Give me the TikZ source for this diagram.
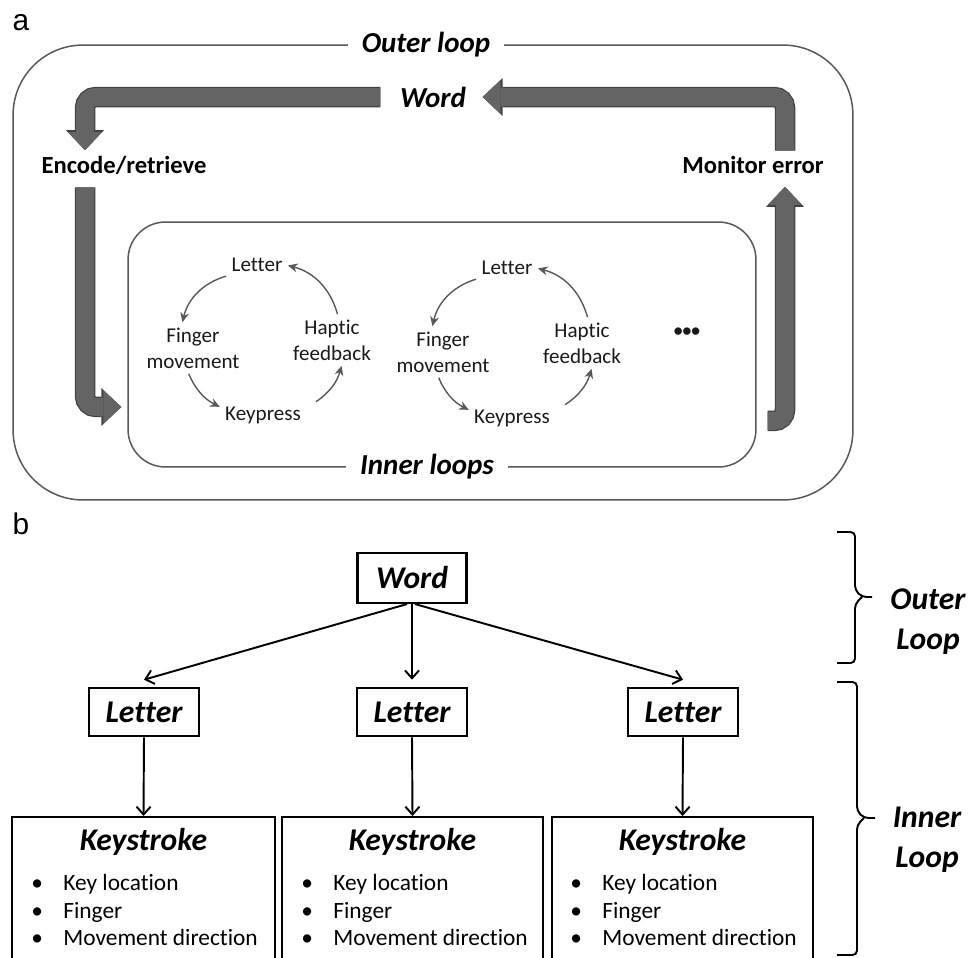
\documentclass[tikz,border=0pt]{standalone}
\usepackage{fontspec}
\setmainfont{Carlito}[Ligatures=NoCommon]
\newfontfamily\panelfont{Liberation Sans}
\definecolor{loopgray}{RGB}{88,88,88}
\definecolor{arrowgray}{RGB}{100,100,100}
\definecolor{arrowedge}{RGB}{66,66,66}
\usetikzlibrary{arrows.meta,positioning}

\begin{document}
\begin{tikzpicture}[x=0.02cm, y=-0.02cm,
    panellbl/.style={font=\panelfont\fontsize{17}{20}\selectfont},
    looplbl/.style={inner sep=3pt, font=\fontsize{16.5}{19}\selectfont\bfseries\itshape},
    gaplbl/.style={looplbl, fill=white, inner xsep=8pt},
    stagelbl/.style={inner sep=3pt, font=\fontsize{14}{17}\selectfont\bfseries},
    looptxt/.style={align=center, inner sep=2pt, text=black!90, font=\fontsize{12}{14.7}\selectfont},
    loopbox/.style={rectangle, draw=loopgray, line width=0.85pt},
    bigarrow/.style={draw=arrowgray, line width=0.36cm, rounded corners=0.22cm,
      -{Triangle[width=0.68cm,length=0.36cm,line width=0pt]},
      preaction={draw=arrowedge, line width=0.41cm, -{Triangle[width=0.76cm,length=0.40cm,line width=0pt]}}},
    smallarrow/.style={draw=loopgray, line width=0.8pt, shorten <=1pt, shorten >=1pt,
      -{Stealth[length=5.5pt,width=5pt]}},
    treebox/.style={rectangle, draw, line width=1.2pt, inner sep=0pt, minimum height=0.97cm,
      font=\fontsize{18}{22}\selectfont\bfseries\itshape},
    keybox/.style={rectangle, draw, line width=1.2pt, anchor=north, minimum height=3.2cm},
    keytitle/.style={inner sep=0pt, font=\fontsize{18}{22}\selectfont\bfseries\itshape},
    keylist/.style={anchor=north west, align=left, inner sep=0pt, font=\fontsize{13.3}{15.6}\selectfont},
    treearrow/.style={draw, line width=1.1pt, -{Straight Barb[length=4.5pt,width=8pt]}},
    sidelbl/.style={align=center, font=\fontsize{18}{22.7}\selectfont\bfseries\itshape},
    sidebrace/.style={draw, line width=1.1pt, rounded corners=2.5pt}
  ]
    \useasboundingbox (0,0) rectangle (969,957);
    \clip (0,0) rectangle (969,957);

    \node[panellbl] (pa) at (21,23) {a};
    \node[loopbox, rounded corners=1.4cm, minimum width=16.8cm, minimum height=9.1cm] (outer) at (433,272.5) {};
    \node[loopbox, rounded corners=0.75cm, minimum width=12.56cm, minimum height=4.9cm] (inner) at (442,344.5) {};
    \node[gaplbl] (outerlbl) at (426,45) {Outer loop};
    \node[gaplbl] (innerlbl) at (427,467) {Inner loops};
    \node[looplbl] (worda) at (433,97) {Word};
    \node[stagelbl] (encode) at (124,165) {Encode/retrieve};
    \node[stagelbl] (monitor) at (753,165) {Monitor error};

    \draw[bigarrow] ([xshift=0.64cm]monitor.north) |- ([xshift=0.22cm]worda.east);
    \draw[bigarrow] ([xshift=-0.28cm]worda.west) -| ([xshift=-0.78cm]encode.north);
    \draw[bigarrow, shorten <=0.15cm] ([xshift=-0.78cm]encode.south) |- ([xshift=-0.12cm,yshift=-1.25cm]inner.west);
    \draw[bigarrow, shorten >=0.15cm] ([xshift=0.22cm,yshift=-1.53cm]inner.east) -| ([xshift=0.64cm]monitor.south);

    \node[looptxt] (let1) at (257,265) {Letter};
    \node[looptxt] (fin1) at (193,348) {Finger\\movement};
    \node[looptxt] (hap1) at (332,340) {Haptic\\feedback};
    \node[looptxt] (key1) at (263,415) {Keypress};
    \node[looptxt] (let2) at (507,268) {Letter};
    \node[looptxt] (fin2) at (443,352) {Finger\\movement};
    \node[looptxt] (hap2) at (582,343) {Haptic\\feedback};
    \node[looptxt] (key2) at (512,418) {Keypress};
    \node[looptxt, font=\fontsize{10}{12}\selectfont\bfseries] (dots) at (687,332) {\textbullet\textbullet\textbullet};

    \draw[smallarrow] (let1.200) to[bend right=30] ([xshift=-0.22cm]fin1.north);
    \draw[smallarrow] ([xshift=-0.1cm]fin1.south) to[bend right=20] (key1.170);
    \draw[smallarrow] ([xshift=0.2cm]key1.north east) to[bend right=20] ([xshift=0.2cm]hap1.south);
    \draw[smallarrow] ([xshift=0.12cm]hap1.north) to[bend right=30] (let1.east);
    \draw[smallarrow] (let2.200) to[bend right=30] ([xshift=-0.22cm]fin2.north);
    \draw[smallarrow] ([xshift=-0.1cm]fin2.south) to[bend right=20] (key2.170);
    \draw[smallarrow] ([xshift=0.2cm]key2.north east) to[bend right=20] ([xshift=0.2cm]hap2.south);
    \draw[smallarrow] ([xshift=0.12cm]hap2.north) to[bend right=30] (let2.east);

    \node[panellbl] (pb) at (21,524) {b};
    \node[treebox, minimum width=2.18cm, minimum height=1.0cm] (wordb) at (412,578) {Word};
    \node[treebox, minimum width=2.2cm] (ltr1) at (144,712) {Letter};
    \node[treebox, minimum width=2.2cm] (ltr2) at (412,712) {Letter};
    \node[treebox, minimum width=2.2cm] (ltr3) at (683,712) {Letter};

    \node[keybox, minimum width=5.26cm] (ks1) at (143.5,816) {};
    \node[keybox, minimum width=5.22cm] (ks2) at (412.5,816) {};
    \node[keybox, minimum width=5.22cm] (ks3) at (682.5,816) {};
    \node[keytitle] (kt1) at (143.5,842) {Keystroke};
    \node[keytitle] (kt2) at (412.5,842) {Keystroke};
    \node[keytitle] (kt3) at (682.5,842) {Keystroke};
    \node[keylist] (kl1) at (31,874) {\makebox[0.64cm][l]{\textbullet}Key location\\\makebox[0.64cm][l]{\textbullet}Finger\\\makebox[0.64cm][l]{\textbullet}Movement direction};
    \node[keylist] (kl2) at (301,874) {\makebox[0.64cm][l]{\textbullet}Key location\\\makebox[0.64cm][l]{\textbullet}Finger\\\makebox[0.64cm][l]{\textbullet}Movement direction};
    \node[keylist] (kl3) at (570,874) {\makebox[0.64cm][l]{\textbullet}Key location\\\makebox[0.64cm][l]{\textbullet}Finger\\\makebox[0.64cm][l]{\textbullet}Movement direction};

    \draw[treearrow] ([xshift=-0.1cm]wordb.south) -- ([yshift=0.14cm]ltr1.north);
    \draw[treearrow] (wordb.south) -- ([yshift=0.14cm]ltr2.north);
    \draw[treearrow] ([xshift=0.06cm]wordb.south) -- ([yshift=0.14cm]ltr3.north);
    \draw[treearrow] (ltr1.south) -- (ks1.north);
    \draw[treearrow] (ltr2.south) -- (ks2.north);
    \draw[treearrow] (ltr3.south) -- (ks3.north);

    \draw[sidebrace] (837,532) -- (855,532) -- (855,590) -- (862,597) -- (872,597)
      (862,597) -- (855,604) -- (855,663) -- (837,663);
    \draw[sidebrace] (837,682) -- (857,682) -- (857,811) -- (864,818) -- (875,818)
      (864,818) -- (857,825) -- (857,955) -- (837,955);
    \node[sidelbl] (outerside) at (928,622) {Outer\\Loop};
    \node[sidelbl] (innerside) at (927,840) {Inner\\Loop};
  \end{tikzpicture}
\end{document}
